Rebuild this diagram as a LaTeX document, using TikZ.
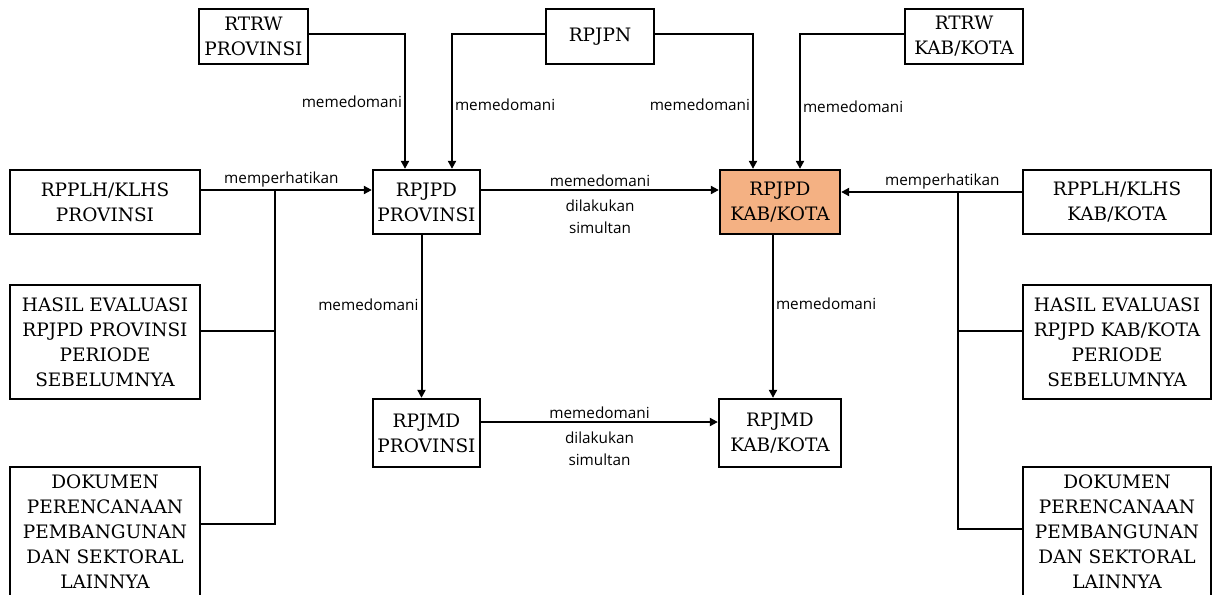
\documentclass[tikz,border=0pt]{standalone}
\usepackage{fontspec}
\setmainfont{DejaVu Serif}
\newfontfamily\lblfont{Open Sans}
\usetikzlibrary{arrows.meta,positioning}
\definecolor{kabfill}{HTML}{F4B183}
\tikzset{
        >={Triangle[length=8pt,width=8pt]},
        box/.style = {draw, line width=2.3pt, align=center, inner sep=0pt, font=\fontsize{18.5}{25}\selectfont},
        lbl/.style = {font=\lblfont\fontsize{15.3}{22}\selectfont, inner sep=2pt, align=center},
        conn/.style = {line width=2pt}
}

\begin{document}
\begin{tikzpicture}[x=1pt,y=-1pt]
        \clip (0,0) rectangle (1212,594);

        % Top boxes
        \node[box, minimum width=109pt, minimum height=55pt] (rtrwp) at (253.5,36.5) {RTRW\\PROVINSI};
        \node[box, minimum width=108pt, minimum height=55pt] (rpjpn) at (600,36.5) {RPJPN};
        \node[box, minimum width=118pt, minimum height=55pt] (rtrwk) at (964,36.5) {RTRW\\KAB/KOTA};

        % Middle boxes
        \node[box, minimum width=107pt, minimum height=64pt] (rpjpdp) at (426.5,202) {RPJPD\\PROVINSI};
        \node[box, fill=kabfill, minimum width=120pt, minimum height=64pt] (rpjpdk) at (780,202) {RPJPD\\KAB/KOTA};
        \node[box, minimum width=107pt, minimum height=68pt] (rpjmdp) at (426.5,433) {RPJMD\\PROVINSI};
        \node[box, minimum width=122pt, minimum height=68pt] (rpjmdk) at (780,433) {RPJMD\\KAB/KOTA};

        % Left boxes
        \node[box, minimum width=190pt, minimum height=64pt] (rpplhp) at (105,202) {RPPLH/KLHS\\PROVINSI};
        \node[box, minimum width=190pt, minimum height=114pt] (hasilp) at (105,342) {HASIL EVALUASI\\RPJPD PROVINSI\\PERIODE\\SEBELUMNYA};
        \node[box, minimum width=190pt, minimum height=130pt] (dokp) at (105,532) {DOKUMEN\\PERENCANAAN\\PEMBANGUNAN\\DAN SEKTORAL\\LAINNYA};

        % Right boxes
        \node[box, minimum width=188pt, minimum height=64pt] (rpplhk) at (1117,202) {RPPLH/KLHS\\KAB/KOTA};
        \node[box, minimum width=188pt, minimum height=114pt] (hasilk) at (1117,342) {HASIL EVALUASI\\RPJPD KAB/KOTA\\PERIODE\\SEBELUMNYA};
        \node[box, minimum width=188pt, minimum height=130pt] (dokk) at (1117,532) {DOKUMEN\\PERENCANAAN\\PEMBANGUNAN\\DAN SEKTORAL\\LAINNYA};

        % Junctions
        \coordinate (jl) at (275,190);
        \coordinate (jr) at (958,192);

        % Top arrows
        \draw[conn,->] ([yshift=2pt]rtrwp.east) -| node[lbl,left,pos=0.75] {memedomani} ([xshift=-21.5pt]rpjpdp.north);
        \draw[conn,->] ([yshift=2pt]rpjpn.west) -| node[lbl,right,pos=0.76] {memedomani} ([xshift=25.5pt]rpjpdp.north);
        \draw[conn,->] ([yshift=2pt]rpjpn.east) -| node[lbl,left,pos=0.76] {memedomani} ([xshift=-27pt]rpjpdk.north);
        \draw[conn,->] ([yshift=2pt]rtrwk.west) -| node[lbl,right,pos=0.77] {memedomani} ([xshift=20pt]rpjpdk.north);

        % Memperhatikan
        \draw[conn,->] ([yshift=12pt]rpplhp.east) -- node[lbl,above,pos=0.47] {memperhatikan} ([yshift=12pt]rpjpdp.west);
        \draw[conn] ([yshift=11pt]hasilp.east) -| (jl);
        \draw[conn] ([yshift=8pt]dokp.east) -| (jl);
        \draw[conn,->] ([yshift=10pt]rpplhk.west) -- node[lbl,above,pos=0.44] {memperhatikan} ([yshift=10pt]rpjpdk.east);
        \draw[conn] ([yshift=11pt]hasilk.west) -| (jr);
        \draw[conn] ([yshift=3pt]dokk.west) -| (jr);

        % Province to kab/kota
        \draw[conn,->] ([yshift=12pt]rpjpdp.east) -- node[lbl,above] {memedomani} node[lbl,below=7pt] {dilakukan\\simultan} ([yshift=12pt]rpjpdk.west);
        \draw[conn,->] ([yshift=11pt]rpjmdp.east) -- node[lbl,above] {memedomani} node[lbl,below=7pt] {dilakukan\\simultan} ([yshift=11pt]rpjmdk.west);

        % RPJPD to RPJMD
        \draw[conn,->] ([xshift=-5pt]rpjpdp.south) -- node[lbl,left,pos=0.43] {memedomani} ([xshift=-5pt]rpjmdp.north);
        \draw[conn,->] ([xshift=-7pt]rpjpdk.south) -- node[lbl,right,pos=0.42] {memedomani} ([xshift=-7pt]rpjmdk.north);

\end{tikzpicture}
\end{document}
